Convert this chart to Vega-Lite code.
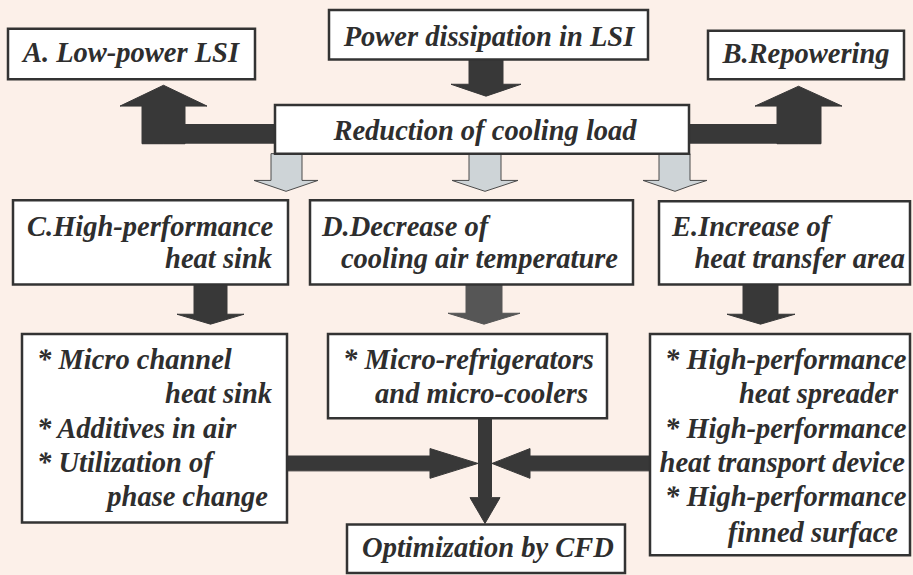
{
  "$schema": "https://vega.github.io/schema/vega-lite/v6.json",
  "width": 913,
  "height": 575,
  "padding": 0,
  "autosize": {"type": "fit", "contains": "padding"},
  "background": "#fcf0e9",
  "config": {"view": {"stroke": null}},
  "datasets": {
    "boxes": [
      {"name": "A", "x": 8, "x2": 255, "y": 29, "y2": 80},
      {"name": "Power", "x": 329, "x2": 648, "y": 10, "y2": 60},
      {"name": "B", "x": 708, "x2": 904, "y": 31, "y2": 80},
      {"name": "Reduction", "x": 275, "x2": 689, "y": 106, "y2": 155},
      {"name": "C", "x": 13, "x2": 288, "y": 202, "y2": 287},
      {"name": "D", "x": 310, "x2": 633, "y": 202, "y2": 287},
      {"name": "E", "x": 659, "x2": 910, "y": 203, "y2": 287},
      {"name": "C2", "x": 22, "x2": 287, "y": 337, "y2": 527},
      {"name": "D2", "x": 328, "x2": 607, "y": 337, "y2": 422},
      {"name": "E2", "x": 650, "x2": 910, "y": 337, "y2": 560},
      {"name": "CFD", "x": 347, "x2": 625, "y": 529, "y2": 578}
    ],
    "shafts": [
      {"id": "A", "kind": "dark", "x": 142, "x2": 276, "y": 125, "y2": 145},
      {"id": "B", "kind": "dark", "x": 688, "x2": 821, "y": 125, "y2": 145}
    ],
    "arrowsV": [
      {"id": "P", "kind": "dark", "x": 451, "y": 85, "y2": 85},
      {"id": "P", "kind": "dark", "x": 469, "y": 85, "y2": 91.2},
      {"id": "P", "kind": "dark", "x": 469, "y": 60, "y2": 91.2},
      {"id": "P", "kind": "dark", "x": 486, "y": 60, "y2": 97},
      {"id": "P", "kind": "dark", "x": 503, "y": 60, "y2": 91.2},
      {"id": "P", "kind": "dark", "x": 503, "y": 85, "y2": 91.2},
      {"id": "P", "kind": "dark", "x": 521, "y": 85, "y2": 85},

      {"id": "G1", "kind": "gray", "x": 254, "y": 182, "y2": 182},
      {"id": "G1", "kind": "gray", "x": 271, "y": 182, "y2": 187.8},
      {"id": "G1", "kind": "gray", "x": 271, "y": 155, "y2": 187.8},
      {"id": "G1", "kind": "gray", "x": 286, "y": 155, "y2": 193},
      {"id": "G1", "kind": "gray", "x": 302, "y": 155, "y2": 187.5},
      {"id": "G1", "kind": "gray", "x": 302, "y": 182, "y2": 187.5},
      {"id": "G1", "kind": "gray", "x": 318, "y": 182, "y2": 182},

      {"id": "G2", "kind": "gray", "x": 452, "y": 182, "y2": 182},
      {"id": "G2", "kind": "gray", "x": 469, "y": 182, "y2": 187.7},
      {"id": "G2", "kind": "gray", "x": 469, "y": 155, "y2": 187.7},
      {"id": "G2", "kind": "gray", "x": 485, "y": 155, "y2": 193},
      {"id": "G2", "kind": "gray", "x": 501, "y": 155, "y2": 187.7},
      {"id": "G2", "kind": "gray", "x": 501, "y": 182, "y2": 187.7},
      {"id": "G2", "kind": "gray", "x": 518, "y": 182, "y2": 182},

      {"id": "G3", "kind": "gray", "x": 643, "y": 182, "y2": 182},
      {"id": "G3", "kind": "gray", "x": 659, "y": 182, "y2": 187.5},
      {"id": "G3", "kind": "gray", "x": 659, "y": 155, "y2": 187.5},
      {"id": "G3", "kind": "gray", "x": 675, "y": 155, "y2": 193},
      {"id": "G3", "kind": "gray", "x": 690, "y": 155, "y2": 187.5},
      {"id": "G3", "kind": "gray", "x": 690, "y": 182, "y2": 187.5},
      {"id": "G3", "kind": "gray", "x": 707, "y": 182, "y2": 182},

      {"id": "C", "kind": "dark", "x": 177, "y": 317, "y2": 317},
      {"id": "C", "kind": "dark", "x": 194, "y": 317, "y2": 322.1},
      {"id": "C", "kind": "dark", "x": 194, "y": 287, "y2": 322.1},
      {"id": "C", "kind": "dark", "x": 210.5, "y": 287, "y2": 327},
      {"id": "C", "kind": "dark", "x": 227, "y": 287, "y2": 322.1},
      {"id": "C", "kind": "dark", "x": 227, "y": 317, "y2": 322.1},
      {"id": "C", "kind": "dark", "x": 244, "y": 317, "y2": 317},

      {"id": "D", "kind": "mid", "x": 448, "y": 316, "y2": 316},
      {"id": "D", "kind": "mid", "x": 466, "y": 316, "y2": 321.5},
      {"id": "D", "kind": "mid", "x": 466, "y": 287, "y2": 321.5},
      {"id": "D", "kind": "mid", "x": 484, "y": 287, "y2": 327},
      {"id": "D", "kind": "mid", "x": 502, "y": 287, "y2": 321.5},
      {"id": "D", "kind": "mid", "x": 502, "y": 316, "y2": 321.5},
      {"id": "D", "kind": "mid", "x": 520, "y": 316, "y2": 316},

      {"id": "E", "kind": "dark", "x": 727, "y": 317, "y2": 317},
      {"id": "E", "kind": "dark", "x": 743, "y": 317, "y2": 321.8},
      {"id": "E", "kind": "dark", "x": 743, "y": 287, "y2": 321.8},
      {"id": "E", "kind": "dark", "x": 760.5, "y": 287, "y2": 327},
      {"id": "E", "kind": "dark", "x": 778, "y": 287, "y2": 321.9},
      {"id": "E", "kind": "dark", "x": 778, "y": 317, "y2": 321.9},
      {"id": "E", "kind": "dark", "x": 795, "y": 317, "y2": 317},

      {"id": "F", "kind": "dark", "x": 470, "y": 502, "y2": 502},
      {"id": "F", "kind": "dark", "x": 478.5, "y": 502, "y2": 516.7},
      {"id": "F", "kind": "dark", "x": 478.5, "y": 422, "y2": 516.7},
      {"id": "F", "kind": "dark", "x": 485, "y": 422, "y2": 528},
      {"id": "F", "kind": "dark", "x": 491.5, "y": 422, "y2": 516.7},
      {"id": "F", "kind": "dark", "x": 491.5, "y": 502, "y2": 516.7},
      {"id": "F", "kind": "dark", "x": 500, "y": 502, "y2": 502},

      {"id": "UA", "kind": "dark", "x": 120, "y": 107, "y2": 107},
      {"id": "UA", "kind": "dark", "x": 142, "y": 96.4, "y2": 107},
      {"id": "UA", "kind": "dark", "x": 142, "y": 96.4, "y2": 145},
      {"id": "UA", "kind": "dark", "x": 163.5, "y": 86, "y2": 145},
      {"id": "UA", "kind": "dark", "x": 185, "y": 96.4, "y2": 145},
      {"id": "UA", "kind": "dark", "x": 185, "y": 96.4, "y2": 107},
      {"id": "UA", "kind": "dark", "x": 207, "y": 107, "y2": 107},

      {"id": "UB", "kind": "dark", "x": 755, "y": 107, "y2": 107},
      {"id": "UB", "kind": "dark", "x": 777, "y": 96.9, "y2": 107},
      {"id": "UB", "kind": "dark", "x": 777, "y": 96.9, "y2": 145},
      {"id": "UB", "kind": "dark", "x": 798.5, "y": 87, "y2": 145},
      {"id": "UB", "kind": "dark", "x": 821, "y": 97.3, "y2": 145},
      {"id": "UB", "kind": "dark", "x": 821, "y": 97.3, "y2": 107},
      {"id": "UB", "kind": "dark", "x": 842, "y": 107, "y2": 107}
    ],
    "arrowsH": [
      {"id": "R", "kind": "dark", "y": 452.5, "x": 430, "x2": 430},
      {"id": "R", "kind": "dark", "y": 460, "x": 430, "x2": 454},
      {"id": "R", "kind": "dark", "y": 460, "x": 287, "x2": 454},
      {"id": "R", "kind": "dark", "y": 467.5, "x": 287, "x2": 478},
      {"id": "R", "kind": "dark", "y": 475, "x": 287, "x2": 454},
      {"id": "R", "kind": "dark", "y": 475, "x": 430, "x2": 454},
      {"id": "R", "kind": "dark", "y": 482.5, "x": 430, "x2": 430},

      {"id": "L", "kind": "dark", "y": 452.5, "x": 530, "x2": 530},
      {"id": "L", "kind": "dark", "y": 460, "x": 530, "x2": 511},
      {"id": "L", "kind": "dark", "y": 460, "x": 650, "x2": 511},
      {"id": "L", "kind": "dark", "y": 467.5, "x": 650, "x2": 492},
      {"id": "L", "kind": "dark", "y": 475, "x": 650, "x2": 511},
      {"id": "L", "kind": "dark", "y": 475, "x": 530, "x2": 511},
      {"id": "L", "kind": "dark", "y": 482.5, "x": 530, "x2": 530}
    ],
    "textCenter": [
      {"t": "A. Low-power LSI", "x": 131, "y": 63},
      {"t": "Power dissipation in LSI", "x": 489, "y": 46},
      {"t": "B.Repowering", "x": 806, "y": 64},
      {"t": "Reduction of cooling load", "x": 485, "y": 141},
      {"t": "Optimization by CFD", "x": 488, "y": 562}
    ],
    "textLeft": [
      {"t": "C.High-performance", "x": 27, "y": 238},
      {"t": "D.Decrease of", "x": 322, "y": 238},
      {"t": "E.Increase of", "x": 672, "y": 238},
      {"t": "* Micro channel", "x": 37, "y": 372},
      {"t": "* Additives in air", "x": 37, "y": 442},
      {"t": "* Utilization of", "x": 37, "y": 476},
      {"t": "* Micro-refrigerators", "x": 343, "y": 372},
      {"t": "* High-performance", "x": 665, "y": 372},
      {"t": "* High-performance", "x": 665, "y": 442},
      {"t": "* High-performance", "x": 665, "y": 510}
    ],
    "textRight": [
      {"t": "heat sink", "x": 272, "y": 270},
      {"t": "cooling air temperature", "x": 618, "y": 270},
      {"t": "heat transfer area", "x": 905, "y": 270},
      {"t": "heat sink", "x": 272, "y": 407},
      {"t": "phase change", "x": 268, "y": 510},
      {"t": "and micro-coolers", "x": 588, "y": 407},
      {"t": "heat spreader", "x": 898, "y": 407},
      {"t": "heat transport device", "x": 905, "y": 476},
      {"t": "finned surface", "x": 898, "y": 547}
    ]
  },
  "layer": [
    {
      "data": {"name": "shafts"},
      "mark": {"type": "rect", "fill": "#383838"},
      "encoding": {
        "x": {"field": "x", "type": "quantitative", "scale": {"domain": [0, 913], "nice": false, "zero": false}, "axis": null},
        "x2": {"field": "x2"},
        "y": {"field": "y", "type": "quantitative", "scale": {"domain": [0, 575], "nice": false, "zero": false, "reverse": true}, "axis": null},
        "y2": {"field": "y2"}
      }
    },
    {
      "data": {"name": "arrowsV"},
      "mark": {"type": "area", "orient": "vertical", "interpolate": "linear", "strokeWidth": 1, "opacity": 1},
      "encoding": {
        "x": {"field": "x", "type": "quantitative", "scale": {"domain": [0, 913], "nice": false, "zero": false}, "axis": null},
        "y": {"field": "y", "type": "quantitative", "stack": null, "scale": {"domain": [0, 575], "nice": false, "zero": false, "reverse": true}, "axis": null},
        "y2": {"field": "y2"},
        "detail": {"field": "id"},
        "fill": {"field": "kind", "type": "nominal", "scale": {"domain": ["dark", "mid", "gray"], "range": ["#383838", "#565656", "#ced4d7"]}, "legend": null},
        "stroke": {"field": "kind", "type": "nominal", "scale": {"domain": ["dark", "mid", "gray"], "range": ["#383838", "#565656", "#4a4a4a"]}, "legend": null}
      }
    },
    {
      "data": {"name": "arrowsH"},
      "mark": {"type": "area", "orient": "horizontal", "interpolate": "linear", "strokeWidth": 1, "opacity": 1, "fill": "#383838", "stroke": "#383838"},
      "encoding": {
        "y": {"field": "y", "type": "quantitative", "scale": {"domain": [0, 575], "nice": false, "zero": false, "reverse": true}, "axis": null},
        "x": {"field": "x", "type": "quantitative", "stack": null, "scale": {"domain": [0, 913], "nice": false, "zero": false}, "axis": null},
        "x2": {"field": "x2"},
        "detail": {"field": "id"}
      }
    },
    {
      "data": {"name": "boxes"},
      "mark": {"type": "rect", "fill": "#ffffff", "stroke": "#333333", "strokeWidth": 2.5},
      "encoding": {
        "x": {"field": "x", "type": "quantitative", "scale": {"domain": [0, 913], "nice": false, "zero": false}, "axis": null},
        "x2": {"field": "x2"},
        "y": {"field": "y", "type": "quantitative", "scale": {"domain": [0, 575], "nice": false, "zero": false, "reverse": true}, "axis": null},
        "y2": {"field": "y2"}
      }
    },
    {
      "data": {"name": "textCenter"},
      "mark": {"type": "text", "align": "center", "baseline": "alphabetic", "font": "Liberation Serif, Times New Roman, DejaVu Serif, serif", "fontStyle": "italic", "fontWeight": "bold", "fontSize": 28.5, "fill": "#2e2e2e"},
      "encoding": {
        "x": {"field": "x", "type": "quantitative", "scale": {"domain": [0, 913], "nice": false, "zero": false}, "axis": null},
        "y": {"field": "y", "type": "quantitative", "scale": {"domain": [0, 575], "nice": false, "zero": false, "reverse": true}, "axis": null},
        "text": {"field": "t"}
      }
    },
    {
      "data": {"name": "textLeft"},
      "mark": {"type": "text", "align": "left", "baseline": "alphabetic", "font": "Liberation Serif, Times New Roman, DejaVu Serif, serif", "fontStyle": "italic", "fontWeight": "bold", "fontSize": 28.5, "fill": "#2e2e2e"},
      "encoding": {
        "x": {"field": "x", "type": "quantitative", "scale": {"domain": [0, 913], "nice": false, "zero": false}, "axis": null},
        "y": {"field": "y", "type": "quantitative", "scale": {"domain": [0, 575], "nice": false, "zero": false, "reverse": true}, "axis": null},
        "text": {"field": "t"}
      }
    },
    {
      "data": {"name": "textRight"},
      "mark": {"type": "text", "align": "right", "baseline": "alphabetic", "font": "Liberation Serif, Times New Roman, DejaVu Serif, serif", "fontStyle": "italic", "fontWeight": "bold", "fontSize": 28.5, "fill": "#2e2e2e"},
      "encoding": {
        "x": {"field": "x", "type": "quantitative", "scale": {"domain": [0, 913], "nice": false, "zero": false}, "axis": null},
        "y": {"field": "y", "type": "quantitative", "scale": {"domain": [0, 575], "nice": false, "zero": false, "reverse": true}, "axis": null},
        "text": {"field": "t"}
      }
    }
  ]
}
